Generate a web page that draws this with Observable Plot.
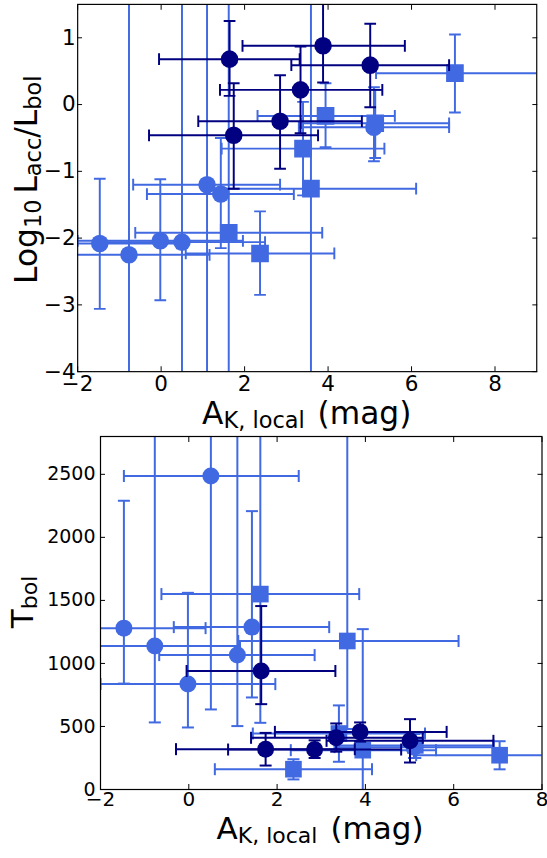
<!DOCTYPE html>
<html><head><meta charset="utf-8">
<script src="https://cdn.jsdelivr.net/npm/d3@7"></script>
<script src="https://cdn.jsdelivr.net/npm/@observablehq/plot@0.6"></script>
<style>
html,body{margin:0;padding:0;overflow:hidden;background:#fff;width:547px;height:858px}
#chart svg{display:block}
</style></head><body><div id="chart"></div>
<script>
// ---------- data ----------
// light circles (x = A_K,local)
const circX    = [-1.47, -0.77, -0.02, 0.50, 1.10, 1.43, 5.10];
const circXlo  = [-3.40, -2.70, -2.00, -1.47, -0.67, -0.34, 3.30];
const circXhi  = [0.38, 1.16, 1.96, 2.49, 2.85, 3.18, 6.90];
const circL    = [-2.08, -2.25, -2.04, -2.06, -1.20, -1.34, -0.34];
const circLlo  = [-3.06, -6, -2.93, -6, -6, -2.15, -0.85];
const circLhi  = [-1.11, 3, -1.12, 3, 3, -0.50, 0.26];
const circT    = [1280, 1138, 836, 2487, 1066, 1288, 336];
const circTlo  = [840, 532, 492, 635, 503, 730, 250];
const circThi  = [2290, 3200, 1560, 3200, 3200, 2208, 440];
// light squares
const sqX    = [1.62, 2.37, 3.40, 3.59, 3.94, 5.13, 7.04];
const sqXlo  = [-0.62, 0.59, 1.45, 1.12, 2.31, 3.35, 5.15];
const sqXhi  = [3.86, 4.15, 5.35, 6.11, 5.60, 6.90, 9.20];
const sqL    = [-1.92, -2.23, -0.66, -1.26, -0.17, -0.28, 0.47];
const sqLlo  = [-6, -2.85, -1.36, -6, -0.64, -0.80, -0.12];
const sqLhi  = [3, -1.60, 0.04, 3, 0.32, 0.22, 1.05];
const sqT    = [1550, 161, 444, 1178, 312, 350, 272];
const sqTlo  = [529, 80, 220, 480, -200, 250, 160];
const sqThi  = [3200, 240, 667, 3200, 1272, 450, 383];
// dark circles
const dkX    = [1.64, 1.74, 2.85, 3.34, 3.88, 5.01];
const dkXlo  = [-0.05, -0.29, 0.89, 1.41, 1.95, 3.12];
const dkXhi  = [3.32, 3.76, 4.81, 5.30, 5.84, 6.90];
const dkL    = [0.68, -0.46, -0.25, 0.22, 0.88, 0.59];
const dkLlo  = [0.13, -1.26, -0.96, -0.43, 0.33, -0.04];
const dkLhi  = [1.25, 0.32, 0.44, 0.87, 3, 1.21];
const dkT    = [940, 320, 317, 410, 457, 386];
const dkTlo  = [677, 190, 250, 300, 380, 214];
const dkThi  = [1455, 449, 390, 524, 532, 558];
// ticks
const topXTicks = [-2, 0, 2, 4, 6, 8];
const topYTicks = [-4, -3, -2, -1, 0, 1];
const botXTicks = [-2, 0, 2, 4, 6, 8];
const botYTicks = [0, 500, 1000, 1500, 2000, 2500];

const LIGHT = "#4169E1", DARK = "#000080";

function rows(x, xlo, xhi, y, ylo, yhi) {
  return x.map((v, i) => ({x: v, xlo: xlo[i], xhi: xhi[i], y: y[i], ylo: ylo[i], yhi: yhi[i]}));
}
const capH = {draw(ctx) { ctx.moveTo(-6, 0); ctx.lineTo(6, 0); }};
const capV = {draw(ctx) { ctx.moveTo(0, -6); ctx.lineTo(0, 6); }};

function group(data, color, symbol, r) {
  const s = {stroke: color, strokeWidth: 2, clip: true};
  return [
    Plot.link(data, {x1: "xlo", x2: "xhi", y1: "y", y2: "y", ...s}),
    Plot.link(data, {x1: "x", x2: "x", y1: "ylo", y2: "yhi", ...s}),
    Plot.dot(data, {x: "xlo", y: "y", symbol: capV, fill: "none", ...s}),
    Plot.dot(data, {x: "xhi", y: "y", symbol: capV, fill: "none", ...s}),
    Plot.dot(data, {x: "x", y: "ylo", symbol: capH, fill: "none", ...s}),
    Plot.dot(data, {x: "x", y: "yhi", symbol: capH, fill: "none", ...s}),
    Plot.dot(data, {x: "x", y: "y", symbol, r, fill: color, stroke: "none", clip: true})
  ];
}
const fmt = d3.format("d");
function axes(xt, yt, o) {
  const none = () => "";
  return [
    Plot.axisX({ticks: xt, anchor: "bottom", tickSize: 0, tickPadding: o.xpad, fontSize: o.fx, tickFormat: fmt, label: null}),
    Plot.axisY({ticks: yt, anchor: "left", tickSize: 0, tickPadding: o.ypad, fontSize: o.fy, tickFormat: fmt, label: null}),
    Plot.axisX({ticks: xt, anchor: "bottom", tickSize: -5, tickFormat: none, label: null}),
    Plot.axisX({ticks: xt, anchor: "top", tickSize: -5, tickFormat: none, label: null}),
    Plot.axisY({ticks: yt, anchor: "left", tickSize: -5, tickFormat: none, label: null}),
    Plot.axisY({ticks: yt, anchor: "right", tickSize: -5, tickFormat: none, label: null}),
    Plot.frame({stroke: "black", strokeWidth: 1.2})
  ];
}
const style = {fontFamily: "DejaVu Sans", background: "white", color: "black"};

const topChart = Plot.plot({
  width: 560, height: 445,
  marginLeft: 79, marginRight: 11, marginTop: 4, marginBottom: 65,
  style,
  x: {domain: [-2, 9]}, y: {domain: [-4, 1.5]},
  marks: [
    ...group(rows(circX, circXlo, circXhi, circL, circLlo, circLhi), LIGHT, "circle", 9),
    ...group(rows(sqX, sqXlo, sqXhi, sqL, sqLlo, sqLhi), LIGHT, "square", 10.2),
    ...group(rows(dkX, dkXlo, dkXhi, dkL, dkLlo, dkLhi), DARK, "circle", 9),
    ...axes(topXTicks, topYTicks, {xpad: 4, ypad: 2, fx: 22, fy: 22})
  ]
});
const botChart = Plot.plot({
  width: 547, height: 413,
  marginLeft: 100, marginRight: 5.5, marginTop: 1, marginBottom: 59,
  style,
  x: {domain: [-2, 8]}, y: {domain: [0, 2800]},
  marks: [
    ...group(rows(circX, circXlo, circXhi, circT, circTlo, circThi), LIGHT, "circle", 8.5),
    ...group(rows(sqX, sqXlo, sqXhi, sqT, sqTlo, sqThi), LIGHT, "square", 9.4),
    ...group(rows(dkX, dkXlo, dkXhi, dkT, dkTlo, dkThi), DARK, "circle", 8.5),
    ...axes(botXTicks, botYTicks, {xpad: 2, ypad: 5, fx: 20, fy: 19})
  ]
});
document.getElementById("chart").append(topChart, botChart);

function title(svg, x, y, rotate, parts, size) {
  const t = d3.select(svg).append("text")
    .attr("transform", `translate(${x},${y})` + (rotate ? " rotate(-90)" : ""))
    .attr("text-anchor", "middle").attr("font-family", "DejaVu Sans")
    .attr("font-size", size).attr("fill", "black");
  let shift = 0;
  for (const p of parts) {
    const s = t.append("tspan").text(p.t);
    const want = p.sub ? Math.round(size * 0.14) : 0;
    if (want !== shift) { s.attr("dy", want - shift); shift = want; }
    if (p.sub) s.attr("font-size", Math.round(size * 0.72));
    if (p.dx) s.attr("dx", p.dx);
  }
}
title(topChart, 314, 434, false, [{t: "A"}, {t: "K, local", sub: true}, {t: "(mag)", dx: 13}], 32);
title(topChart, 38, 184, true, [{t: "Log"}, {t: "10", sub: true}, {t: "L", dx: 6}, {t: "acc", sub: true}, {t: "/L"}, {t: "bol", sub: true}], 32);
title(botChart, 320, 404, false, [{t: "A"}, {t: "K, local", sub: true}, {t: "(mag)", dx: 13}], 31);
title(botChart, 33, 167, true, [{t: "T"}, {t: "bol", sub: true}], 31);
</script></body></html>
